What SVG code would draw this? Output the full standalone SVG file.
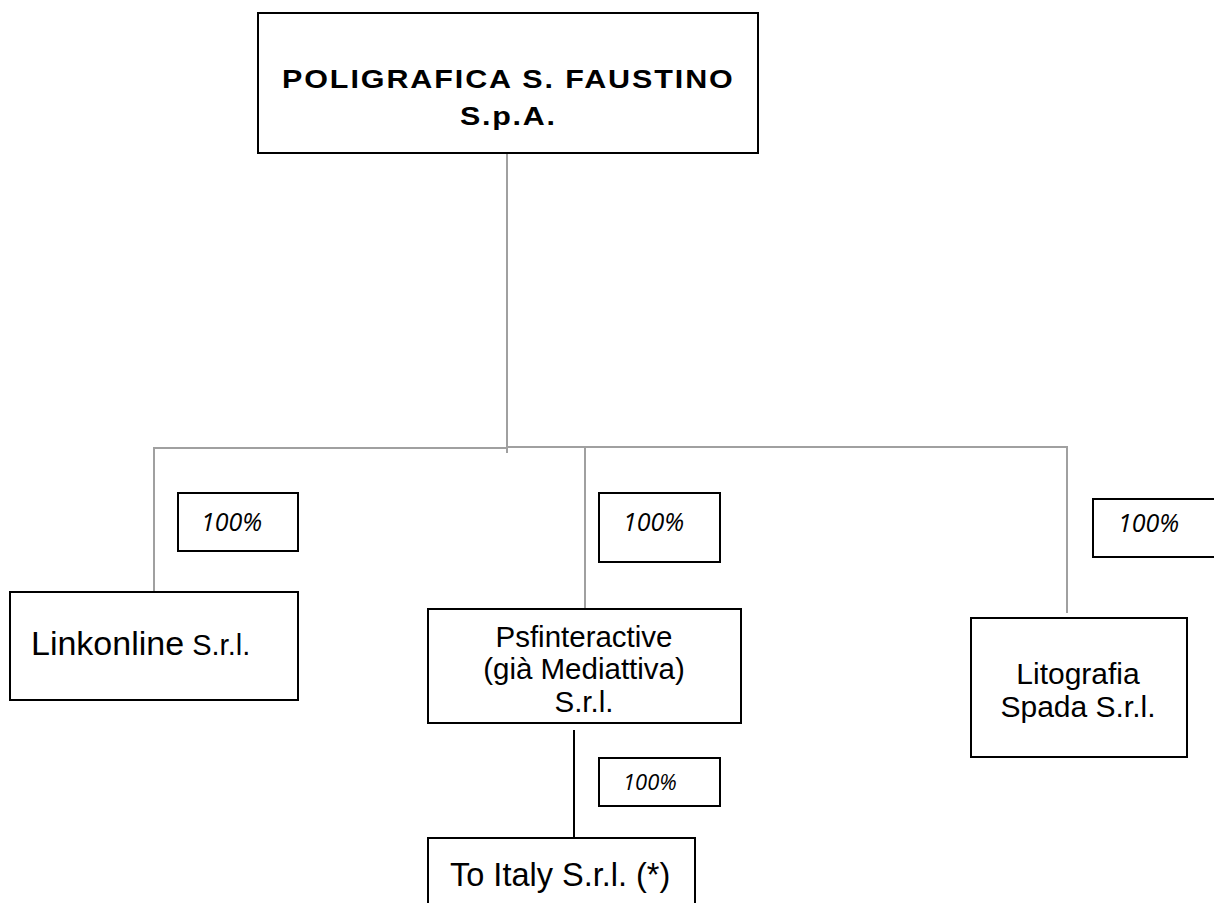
<svg xmlns="http://www.w3.org/2000/svg" width="1214" height="903" viewBox="0 0 1214 903">
<style>
.box{fill:#fff;stroke:#000;stroke-width:2}
.pbox{fill:#fff;stroke:#000;stroke-width:2}
.conn{stroke:#a0a0a0;stroke-width:2;fill:none}
.connb{stroke:#000;stroke-width:2;fill:none}
.lbl{font-family:"Liberation Sans",Arial,sans-serif;fill:#000}
.title{font-family:"Liberation Sans",Arial,sans-serif;font-weight:bold;font-size:26.5px;fill:#000}
.pct{font-family:"Open Sans","Noto Sans",sans-serif;font-style:italic;fill:#000}
</style>
<rect width="1214" height="903" fill="#fff"/>
<g id="connectors">
<line class="conn" x1="507" y1="153" x2="507" y2="453"/>
<line class="conn" x1="153" y1="448" x2="507" y2="448"/>
<line class="conn" x1="507" y1="447" x2="1068" y2="447"/>
<line class="conn" x1="154" y1="447" x2="154" y2="592"/>
<line class="conn" x1="585" y1="447" x2="585" y2="609"/>
<line class="conn" x1="1067" y1="447" x2="1067" y2="613"/>
<line class="connb" x1="574" y1="730" x2="574" y2="838"/>
</g>
<g id="node-psf-root">
<rect class="box" x="258" y="13" width="500" height="140"/>
<g transform="scale(1.15,1)">
<text class="title" x="245.2" y="88" textLength="392" lengthAdjust="spacing">POLIGRAFICA S. FAUSTINO</text>
<text class="title" x="400" y="125" textLength="82.6" lengthAdjust="spacing">S.p.A.</text>
</g>
</g>
<g id="node-linkonline">
<rect class="box" x="10" y="592" width="288" height="108"/>
<text class="lbl" x="31" y="655"><tspan font-size="34">Linkonline</tspan><tspan font-size="29"> S.r.l.</tspan></text>
</g>
<g id="node-psfinteractive">
<rect class="box" x="428" y="609" width="313" height="114"/>
<text class="lbl" font-size="29.5" text-anchor="middle"><tspan x="584" y="647">Psfinteractive</tspan><tspan x="584" y="679">(già Mediattiva)</tspan><tspan x="584" y="712">S.r.l.</tspan></text>
</g>
<g id="node-litografia">
<rect class="box" x="971" y="618" width="216" height="139"/>
<text class="lbl" font-size="30" text-anchor="middle"><tspan x="1078" y="684">Litografia</tspan><tspan x="1078" y="717">Spada S.r.l.</tspan></text>
</g>
<g id="node-toitaly">
<rect class="box" x="428" y="838" width="267" height="80"/>
<text class="lbl" font-size="32.5" x="450" y="886">To Italy S.r.l. (*)</text>
</g>
<g id="label-linkonline-pct">
<rect class="pbox" x="178" y="493" width="120" height="58"/>
<text class="pct" font-size="25" x="201" y="531">100%</text>
</g>
<g id="label-psfinteractive-pct">
<rect class="pbox" x="599" y="493" width="121" height="69"/>
<text class="pct" font-size="25" x="623" y="531">100%</text>
</g>
<g id="label-litografia-pct">
<rect class="pbox" x="1093" y="499" width="125" height="58"/>
<text class="pct" font-size="25" x="1118" y="532">100%</text>
</g>
<g id="label-toitaly-pct">
<rect class="pbox" x="599" y="758" width="121" height="48"/>
<text class="pct" font-size="22" x="623" y="790">100%</text>
</g>
</svg>
